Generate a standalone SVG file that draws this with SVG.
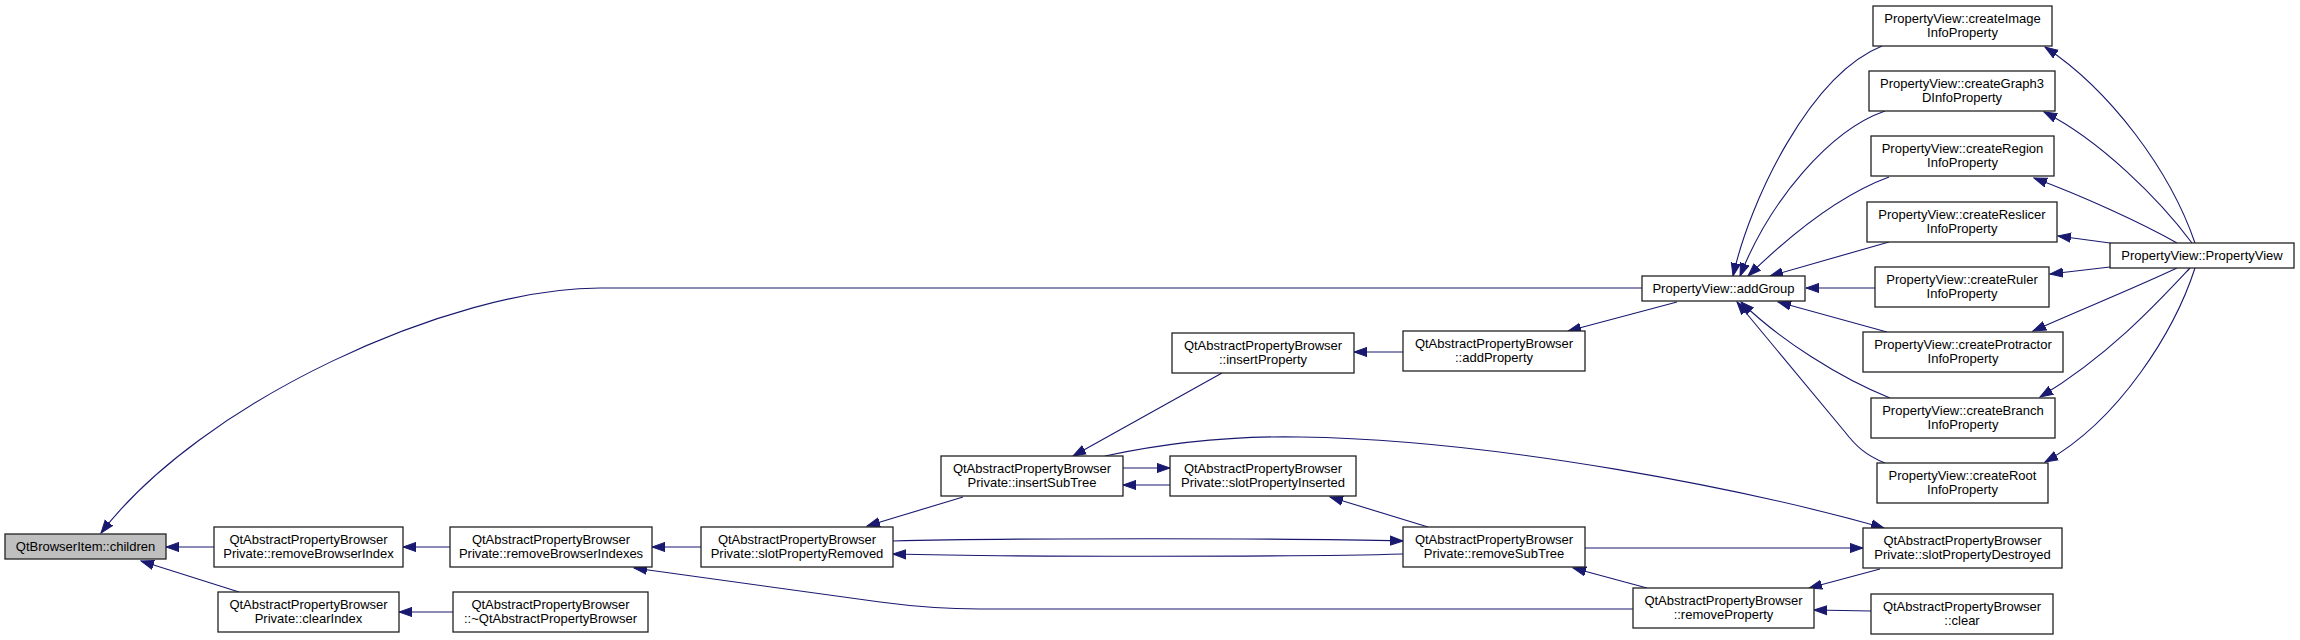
<svg xmlns="http://www.w3.org/2000/svg" width="2300" height="640" viewBox="0 0 2300 640">
<style>
.node rect{fill:#fff;stroke:#222;stroke-width:1.3}
.node.cur rect{fill:#bfbfbf}
.node text{font-family:"Liberation Sans",Arial,sans-serif;font-size:13px;text-anchor:middle;fill:#000}
.edge path{fill:none;stroke:#191970;stroke-width:1.1;marker-end:url(#arr)}
</style>
<defs>
<marker id="arr" markerUnits="userSpaceOnUse" markerWidth="14" markerHeight="12" refX="13" refY="5" orient="auto" viewBox="0 0 14 10">
<path d="M0,0.4 L13,5 L0,9.6 z" fill="#191970" stroke="#191970" stroke-width="1"/>
</marker>
</defs>
<rect width="2300" height="640" fill="#fff"/>
<g id="edges" class="edge">
<path d="M1642,288 L600,288 C450,288 201,402 101,533"/>
<path d="M214,547 L166,547"/>
<path d="M239,592 L141,561"/>
<path d="M450,547 L403,547"/>
<path d="M453,612 L399,612"/>
<path d="M701,547 L652,547"/>
<path d="M1633,609 L980,609 C940,609 910,606 880,602 L634,568"/>
<path d="M963,497 L867,526"/>
<path d="M893,541 C1000,538 1300,538 1403,541"/>
<path d="M1403,554 C1300,557 1000,557 893,554"/>
<path d="M1222,373 L1073,456"/>
<path d="M1403,352 L1354,352"/>
<path d="M1677,302 L1568,331"/>
<path d="M1123,468 L1170,468"/>
<path d="M1170,485 L1123,485"/>
<path d="M1105,456 C1180,440 1250,436 1300,437 C1500,440 1750,490 1884,528"/>
<path d="M1428,527 L1330,497"/>
<path d="M1585,548 L1863,548"/>
<path d="M1647,588 L1573,568"/>
<path d="M1880,569 L1809,588"/>
<path d="M1871,611 L1814,610"/>
<path d="M1882,46 C1810,75 1750,200 1733,276"/>
<path d="M1885,111 C1830,130 1770,200 1740,276"/>
<path d="M1889,177 C1840,195 1790,235 1748,276"/>
<path d="M1889,242 L1770,276"/>
<path d="M1875,288 L1806,288"/>
<path d="M1887,332 L1778,302"/>
<path d="M1890,398 C1840,378 1780,340 1741,302"/>
<path d="M1885,463 C1865,455 1855,445 1845,432 L1737,302"/>
<path d="M2195,243 C2170,170 2110,90 2045,47"/>
<path d="M2192,243 C2160,200 2100,140 2044,112"/>
<path d="M2177,243 C2140,222 2080,195 2034,178"/>
<path d="M2110,243 L2058,236"/>
<path d="M2110,267 L2050,274"/>
<path d="M2177,268 C2130,290 2080,310 2033,331"/>
<path d="M2190,268 C2160,300 2110,355 2040,397"/>
<path d="M2195,268 C2175,330 2120,420 2045,462"/>
</g>
<g id="n_children" class="node cur"><rect x="5" y="534" width="161" height="25"/><text x="85.5" y="551">QtBrowserItem::children</text></g>
<g id="n_removeBrowserIndex" class="node"><rect x="214" y="527" width="189" height="40"/><text x="308.5" y="544">QtAbstractPropertyBrowser</text><text x="308.5" y="558">Private::removeBrowserIndex</text></g>
<g id="n_removeBrowserIndexes" class="node"><rect x="450" y="527" width="202" height="40"/><text x="551" y="544">QtAbstractPropertyBrowser</text><text x="551" y="558">Private::removeBrowserIndexes</text></g>
<g id="n_clearIndex" class="node"><rect x="218" y="592" width="181" height="40"/><text x="308.5" y="609">QtAbstractPropertyBrowser</text><text x="308.5" y="623">Private::clearIndex</text></g>
<g id="n_dtor" class="node"><rect x="453" y="592" width="195" height="40"/><text x="550.5" y="609">QtAbstractPropertyBrowser</text><text x="550.5" y="623">::~QtAbstractPropertyBrowser</text></g>
<g id="n_slotPropertyRemoved" class="node"><rect x="701" y="527" width="192" height="40"/><text x="797" y="544">QtAbstractPropertyBrowser</text><text x="797" y="558">Private::slotPropertyRemoved</text></g>
<g id="n_insertSubTree" class="node"><rect x="941" y="456" width="182" height="40"/><text x="1032" y="473">QtAbstractPropertyBrowser</text><text x="1032" y="487">Private::insertSubTree</text></g>
<g id="n_slotPropertyInserted" class="node"><rect x="1170" y="456" width="186" height="40"/><text x="1263" y="473">QtAbstractPropertyBrowser</text><text x="1263" y="487">Private::slotPropertyInserted</text></g>
<g id="n_insertProperty" class="node"><rect x="1172" y="333" width="182" height="40"/><text x="1263" y="350">QtAbstractPropertyBrowser</text><text x="1263" y="364">::insertProperty</text></g>
<g id="n_addProperty" class="node"><rect x="1403" y="331" width="182" height="40"/><text x="1494" y="348">QtAbstractPropertyBrowser</text><text x="1494" y="362">::addProperty</text></g>
<g id="n_removeSubTree" class="node"><rect x="1403" y="527" width="182" height="40"/><text x="1494" y="544">QtAbstractPropertyBrowser</text><text x="1494" y="558">Private::removeSubTree</text></g>
<g id="n_slotPropertyDestroyed" class="node"><rect x="1863" y="528" width="199" height="40"/><text x="1962.5" y="545">QtAbstractPropertyBrowser</text><text x="1962.5" y="559">Private::slotPropertyDestroyed</text></g>
<g id="n_removeProperty" class="node"><rect x="1633" y="588" width="181" height="40"/><text x="1723.5" y="605">QtAbstractPropertyBrowser</text><text x="1723.5" y="619">::removeProperty</text></g>
<g id="n_clear" class="node"><rect x="1871" y="594" width="182" height="40"/><text x="1962" y="611">QtAbstractPropertyBrowser</text><text x="1962" y="625">::clear</text></g>
<g id="n_addGroup" class="node"><rect x="1642" y="276" width="163" height="25"/><text x="1723.5" y="293">PropertyView::addGroup</text></g>
<g id="n_createImage" class="node"><rect x="1873" y="6" width="179" height="40"/><text x="1962.5" y="23">PropertyView::createImage</text><text x="1962.5" y="37">InfoProperty</text></g>
<g id="n_createGraph3D" class="node"><rect x="1869" y="71" width="186" height="40"/><text x="1962" y="88">PropertyView::createGraph3</text><text x="1962" y="102">DInfoProperty</text></g>
<g id="n_createRegion" class="node"><rect x="1871" y="136" width="183" height="40"/><text x="1962.5" y="153">PropertyView::createRegion</text><text x="1962.5" y="167">InfoProperty</text></g>
<g id="n_createReslicer" class="node"><rect x="1867" y="202" width="190" height="40"/><text x="1962" y="219">PropertyView::createReslicer</text><text x="1962" y="233">InfoProperty</text></g>
<g id="n_createRuler" class="node"><rect x="1875" y="267" width="174" height="40"/><text x="1962" y="284">PropertyView::createRuler</text><text x="1962" y="298">InfoProperty</text></g>
<g id="n_createProtractor" class="node"><rect x="1863" y="332" width="200" height="40"/><text x="1963" y="349">PropertyView::createProtractor</text><text x="1963" y="363">InfoProperty</text></g>
<g id="n_createBranch" class="node"><rect x="1871" y="398" width="184" height="40"/><text x="1963" y="415">PropertyView::createBranch</text><text x="1963" y="429">InfoProperty</text></g>
<g id="n_createRoot" class="node"><rect x="1877" y="463" width="171" height="40"/><text x="1962.5" y="480">PropertyView::createRoot</text><text x="1962.5" y="494">InfoProperty</text></g>
<g id="n_PropertyView" class="node"><rect x="2110" y="243" width="184" height="25"/><text x="2202" y="260">PropertyView::PropertyView</text></g>
</svg>
